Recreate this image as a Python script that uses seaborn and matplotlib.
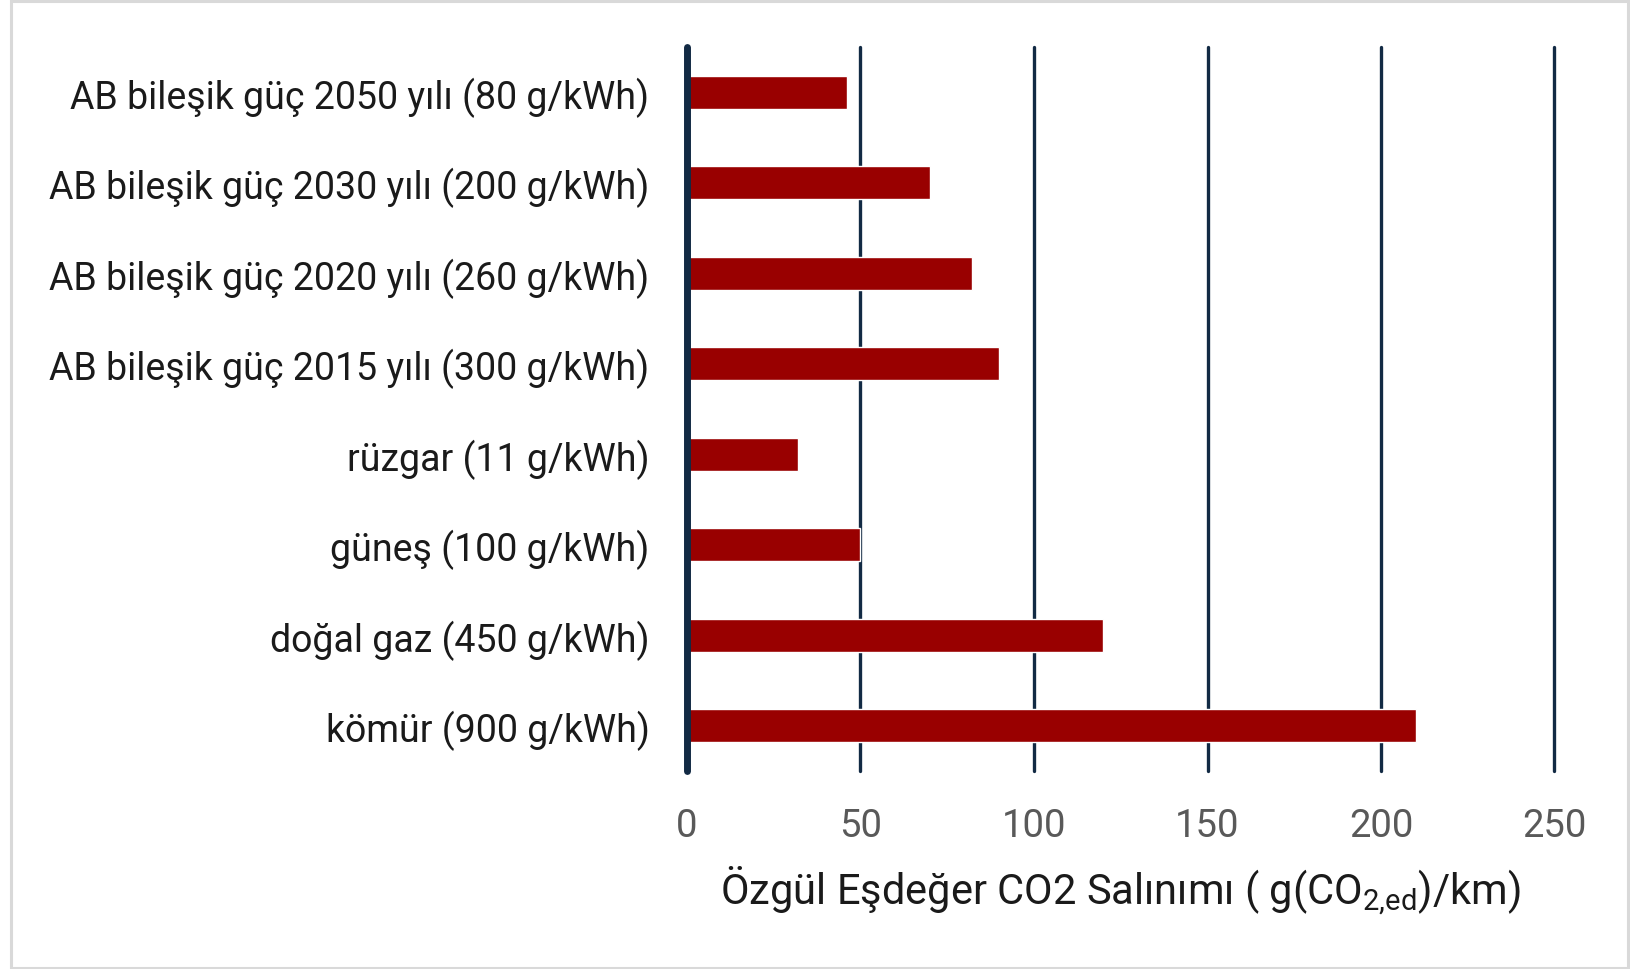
import matplotlib
matplotlib.use("Agg")
import matplotlib.pyplot as plt
from matplotlib.patches import Rectangle
import seaborn as sns
import pandas as pd

# Electricity sources (with grid carbon intensity) and the resulting per-km emissions
sources = [
    "AB bileşik güç 2050 yılı (80 g/kWh)",
    "AB bileşik güç 2030 yılı (200 g/kWh)",
    "AB bileşik güç 2020 yılı (260 g/kWh)",
    "AB bileşik güç 2015 yılı (300 g/kWh)",
    "rüzgar (11 g/kWh)",
    "güneş (100 g/kWh)",
    "doğal gaz (450 g/kWh)",
    "kömür (900 g/kWh)",
]
emissions = [46, 70, 82, 90, 32, 50, 120, 210]
x_ticks = [0, 50, 100, 150, 200, 250]

df = pd.DataFrame({"kaynak": sources, "emisyon": emissions})

sns.set_theme(style="white")
plt.rcParams["font.family"] = ["Roboto", "DejaVu Sans"]

navy = "#122a44"
fig = plt.figure(figsize=(16.31, 9.70), dpi=100)
ax = fig.add_axes([687 / 1631, 1 - 772 / 970, (1554.5 - 687) / 1631, (772 - 48) / 970])

# vertical gridlines behind the bars
for t in x_ticks[1:]:
    ax.axvline(t, color=navy, lw=2.4, zorder=0, clip_on=False)

sns.barplot(data=df, x="emisyon", y="kaynak", orient="h", color="#990000",
            width=0.36, saturation=1, ax=ax, zorder=2)

# zero line on top of the bar roots
ax.axvline(0, color=navy, lw=5.0, zorder=3, clip_on=False)

ax.set_xlim(0, 250)
ax.set_ylim(7.5, -0.5)
ax.set_xticks(x_ticks)
ax.set_xticklabels([str(t) for t in x_ticks])
for s in ax.spines.values():
    s.set_visible(False)
ax.tick_params(axis="x", length=0, pad=26, labelsize=27.5, labelcolor="#595959")
ax.tick_params(axis="y", length=0, pad=27, labelsize=27, labelcolor="#1a1a1a")
ax.set_ylabel("")
ax.set_xlabel(r"Özgül Eşdeğer CO2 Salınımı ( g(CO$_{\mathregular{2{,}ed}}$)/km)",
              fontsize=30, color="#1a1a1a", labelpad=14)

# light frame around the whole chart
fig.patches.append(Rectangle((11 / 1631, 1 / 970), 1617 / 1631, 967 / 970,
                             transform=fig.transFigure, fill=False,
                             edgecolor="#d9d9d9", lw=2.2))

fig.savefig("out.png", dpi=100)
